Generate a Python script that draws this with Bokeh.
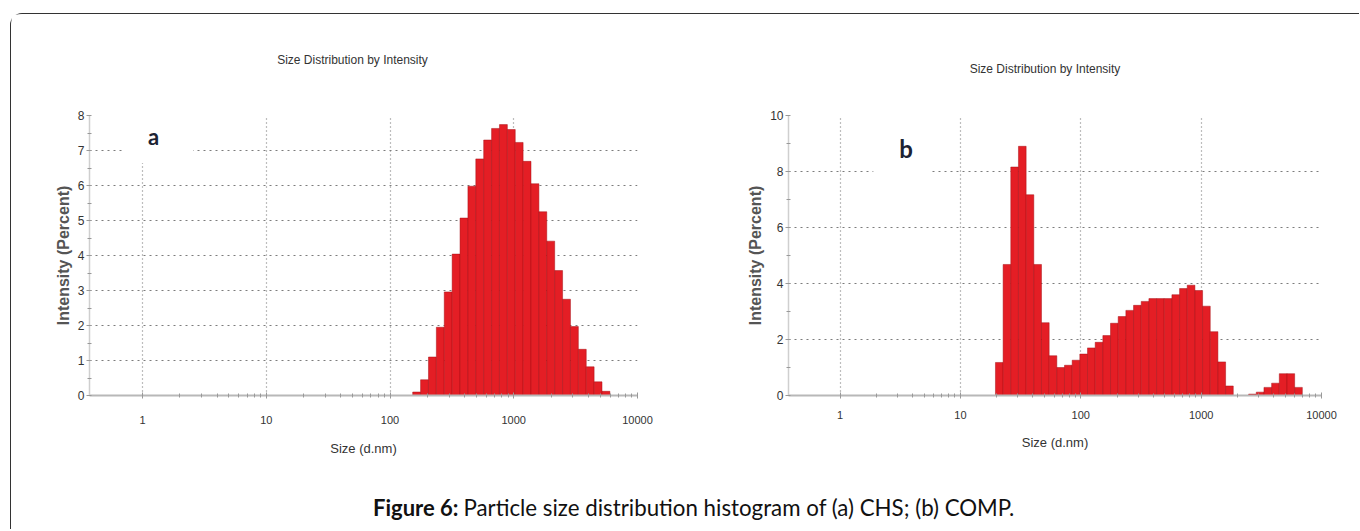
import math
from bokeh.plotting import figure
from bokeh.layouts import column, row
from bokeh.models import FixedTicker, SingleIntervalTicker, Label, Range1d, ColumnDataSource
from bokeh.embed import file_html
from bokeh.resources import INLINE

# ---------------- data ----------------
# Malvern size classes (d.nm) used as bar centres
size_a = [164.2, 190.1, 220.2, 255.0, 295.3, 342.0, 396.1, 458.7, 531.2, 615.1,
          712.4, 825.0, 955.4, 1106, 1281, 1484, 1718, 1990, 2305, 2669,
          3091, 3580, 4145, 4801, 5560]
intensity_a = [0.1, 0.45, 1.1, 1.95, 2.96, 4.04, 5.07, 5.98, 6.76, 7.3,
               7.63, 7.74, 7.6, 7.23, 6.69, 6.05, 5.25, 4.41, 3.57, 2.75,
               1.97, 1.32, 0.82, 0.39, 0.12]

size_b = [21.04, 24.36, 28.21, 32.67, 37.84, 43.82, 50.75, 58.77, 68.06, 78.82,
          91.28, 105.7, 122.4, 141.8, 164.2, 190.1, 220.2, 255.0, 295.3, 342.0,
          396.1, 458.7, 531.2, 615.1, 712.4, 825.0, 955.4, 1106, 1281, 1484,
          1718, 1990, 2305, 2669, 3091, 3580, 4145, 4801, 5560, 6439]
intensity_b = [1.18, 4.68, 8.16, 8.9, 7.17, 4.68, 2.6, 1.42, 1.0, 1.08,
               1.26, 1.48, 1.7, 1.9, 2.14, 2.58, 2.82, 3.04, 3.22, 3.36,
               3.46, 3.46, 3.46, 3.6, 3.82, 3.94, 3.75, 3.19, 2.28, 1.2,
               0.34, 0, 0, 0.05, 0.12, 0.29, 0.44, 0.78, 0.78, 0.29]

x_ticks = [1, 10, 100, 1000, 10000]
x_tick_labels = ["1", "10", "100", "1000", "10000"]
title_text = "Size Distribution by Intensity"
x_label = "Size (d.nm)"
y_label = "Intensity (Percent)"
caption_bold = "Figure 6:"
caption_rest = "Particle size distribution histogram of (a) CHS; (b) COMP."

CHART_FONT = "Liberation Sans"
RED = "#E41E25"
GRID = "#7c7c7c"


def bar_source(sizes, vals):
    r = (sizes[-1] / sizes[0]) ** (1.0 / (len(sizes) - 1))
    h = math.sqrt(r)
    return ColumnDataSource(dict(left=[s / h for s in sizes],
                                 right=[s * h for s in sizes],
                                 top=vals))


def make_panel(sizes, vals, ymax, yint, width, height, mb,
               lbl_standoff, axlbl_standoff, letter, lx, ly, pad, fsize):
    p = figure(width=width, height=height, x_axis_type="log",
               x_range=Range1d(0.373, 10000), y_range=Range1d(0, ymax),
               output_backend="svg", toolbar_location=None,
               min_border_left=mb[0], min_border_right=mb[1],
               min_border_top=mb[2], min_border_bottom=mb[3])
    p.outline_line_color = None
    p.background_fill_color = "white"
    p.border_fill_color = "white"

    p.quad(left="left", right="right", bottom=0, top="top", source=bar_source(sizes, vals),
           fill_color=RED, line_color="#a50d12", line_width=0.6, line_alpha=0.8)

    minor = [m * 10 ** k for k in range(0, 4) for m in range(2, 10)]
    p.xaxis.ticker = FixedTicker(ticks=x_ticks, minor_ticks=minor)
    p.xaxis.major_label_overrides = {t: l for t, l in zip(x_ticks, x_tick_labels)}
    p.xaxis.axis_line_color = "#b8b8b8"
    p.xaxis.axis_line_width = 2
    p.xaxis.major_tick_line_color = "#999999"
    p.xaxis.minor_tick_line_color = "#999999"
    p.xaxis.major_tick_in = 3
    p.xaxis.major_tick_out = 3
    p.xaxis.minor_tick_in = 2
    p.xaxis.minor_tick_out = 2
    p.xaxis.major_label_text_font = CHART_FONT
    p.xaxis.major_label_text_font_size = "11px"
    p.xaxis.major_label_text_color = "#333333"
    p.xaxis.major_label_standoff = lbl_standoff
    p.xaxis.axis_label = x_label
    p.xaxis.axis_label_text_font = CHART_FONT
    p.xaxis.axis_label_text_font_size = "13px"
    p.xaxis.axis_label_text_font_style = "normal"
    p.xaxis.axis_label_text_color = "#333333"
    p.xaxis.axis_label_standoff = axlbl_standoff

    p.yaxis.ticker = SingleIntervalTicker(interval=yint, num_minor_ticks=2)
    p.yaxis.axis_line_color = "#cfcfcf"
    p.yaxis.axis_line_width = 1.5
    p.yaxis.major_tick_line_color = "#999999"
    p.yaxis.minor_tick_line_color = "#999999"
    p.yaxis.major_tick_in = 0
    p.yaxis.major_tick_out = 3
    p.yaxis.minor_tick_in = 2
    p.yaxis.minor_tick_out = 2
    p.yaxis.major_label_text_font = CHART_FONT
    p.yaxis.major_label_text_font_size = "12px"
    p.yaxis.major_label_text_color = "#333333"
    p.yaxis.major_label_standoff = 2
    p.yaxis.axis_label = y_label
    p.yaxis.axis_label_text_font = CHART_FONT
    p.yaxis.axis_label_text_font_size = "16px"
    p.yaxis.axis_label_text_font_style = "bold"
    p.yaxis.axis_label_text_color = "#555555"
    p.yaxis.axis_label_standoff = 3

    for g in (p.xgrid, p.ygrid):
        g.grid_line_color = GRID
        g.grid_line_width = 1.2
    p.xgrid.grid_line_dash = "1 3"
    p.ygrid.grid_line_dash = "2 4"

    # panel letter on a white patch (padding order: left, right, top, bottom)
    p.add_layout(Label(x=lx, y=ly, text=letter, text_align="center", text_baseline="middle",
                       text_font="Lato", text_font_style="bold", text_font_size=fsize,
                       text_color="#1c2333", background_fill_color="white",
                       padding=pad))
    return p


# header strip carrying the two chart titles (1 data unit = 1 px)
head = figure(width=1348, height=70, x_range=Range1d(0, 1348), y_range=Range1d(0, 70),
              output_backend="svg", toolbar_location=None, min_border=0)
head.axis.visible = False
head.grid.visible = False
head.outline_line_color = None
head.add_layout(Label(x=341, y=25, text=title_text, text_align="center", text_baseline="middle",
                      text_font=CHART_FONT, text_font_size="12px", text_color="#333333"))
head.add_layout(Label(x=1033.5, y=16, text=title_text, text_align="center", text_baseline="middle",
                      text_font=CHART_FONT, text_font_size="12px", text_color="#333333"))

pa = make_panel(size_a, intensity_a, 8, 1, 680, 390, (78, 54, 29, 75),
                17, 14, "a", 1.335, 7.4, (25, 34, 13, 13), "22px")
pb = make_panel(size_b, intensity_b, 10, 2, 668, 390, (97, 38, 31, 79),
                12, 13, "b", 3.31, 9.05, (26, 19, 25, 12), "24px")

cap = figure(width=1348, height=55, x_range=Range1d(0, 1348), y_range=Range1d(0, 55),
             output_backend="svg", toolbar_location=None, min_border=0)
cap.axis.visible = False
cap.grid.visible = False
cap.outline_line_color = None
cap.add_layout(Label(x=447, y=22.5, text=caption_bold, text_align="right", text_baseline="middle",
                     text_font="Lato", text_font_style="bold", text_font_size="22px",
                     text_color="#111111"))
cap.add_layout(Label(x=452, y=22.5, text=caption_rest,
                     text_align="left", text_baseline="middle",
                     text_font="Lato", text_font_size="22.3px", text_color="#111111"))

layout = column(head, row(pa, pb), cap, margin=(13, 0, 0, 10),
                styles={"border-top": "1px solid #333333", "border-left": "1px solid #333333",
                        "border-top-left-radius": "12px", "background-color": "white"})

open("out.html", "w").write(file_html(layout, INLINE))
